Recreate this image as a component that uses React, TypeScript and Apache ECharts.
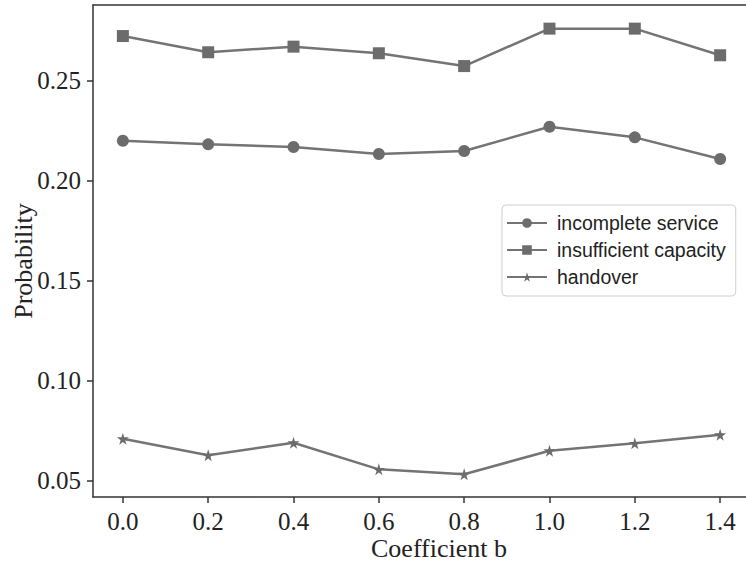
import React, { useEffect, useRef } from "react";
import * as echarts from "echarts";

const coefficients = [0.0, 0.2, 0.4, 0.6, 0.8, 1.0, 1.2, 1.4];
const incompleteService = [0.2198, 0.218, 0.2167, 0.2132, 0.2147, 0.2268, 0.2215, 0.2107];
const insufficientCapacity = [0.2721, 0.264, 0.2668, 0.2635, 0.2571, 0.2758, 0.2758, 0.2625];
const handover = [0.071, 0.0628, 0.069, 0.0557, 0.0533, 0.065, 0.0687, 0.073];
const xTicks = [0.0, 0.2, 0.4, 0.6, 0.8, 1.0, 1.2, 1.4];
const yTicks = [0.05, 0.1, 0.15, 0.2, 0.25];

const STAR = "path://M50,0 L61,35 L98,35 L68,57 L79,91 L50,70 L21,91 L32,57 L2,35 L39,35 Z";
const LINE = "#747474";
const MARK = "#6c6c6c";
const SERIF = "'Liberation Serif', 'Times New Roman', serif";
const AXIS = { color: "#333", width: 1.5 };

export default function App() {
  const ref = useRef<HTMLDivElement>(null);
  useEffect(() => {
    const chart = echarts.init(ref.current!, null, { renderer: "svg" });
    const mk = (name: string, vals: number[], symbol: string, size: number) => ({
      name,
      type: "line",
      data: coefficients.map((c, i) => [c, vals[i]]),
      symbol,
      symbolSize: size,
      showAllSymbol: true,
      lineStyle: { color: LINE, width: 2.5 },
      itemStyle: { color: MARK, borderWidth: 0 },
      emphasis: { disabled: true },
    });
    chart.setOption({
      animation: false,
      backgroundColor: "#fff",
      grid: {
        left: 93,
        top: 5,
        right: 2,
        bottom: 69,
        outerBoundsMode: "none",
        containLabel: false,
        show: false,
      },
      xAxis: [
        {
          type: "value",
          min: -0.07,
          max: 1.47,
          name: "Coefficient b",
          nameLocation: "middle",
          nameGap: 38,
          nameMoveOverlap: false,
          nameTextStyle: { fontFamily: SERIF, fontSize: 26, color: "#222", padding: [0, 0, 0, 35] },
          axisLine: { show: true, onZero: false, lineStyle: AXIS },
          axisTick: { show: true, length: 6, lineStyle: AXIS, customValues: xTicks },
          axisLabel: {
            fontFamily: SERIF,
            fontSize: 25,
            color: "#222",
            margin: 12,
            customValues: xTicks,
            formatter: (v: number) => v.toFixed(1),
          },
          splitLine: { show: false },
        },
        {
          type: "value",
          position: "top",
          min: -0.07,
          max: 1.47,
          axisLine: { show: true, onZero: false, lineStyle: AXIS },
          axisTick: { show: false },
          axisLabel: { show: false },
          splitLine: { show: false },
        },
      ],
      yAxis: {
        type: "value",
        min: 0.0419,
        max: 0.2876,
        name: "Probability",
        nameLocation: "middle",
        nameGap: 57,
        nameMoveOverlap: false,
        nameTextStyle: { fontFamily: SERIF, fontSize: 26, color: "#222", padding: [0, 20, 0, 0] },
        axisLine: { show: true, onZero: false, lineStyle: AXIS },
        axisTick: { show: true, length: 6, lineStyle: AXIS, customValues: yTicks },
        axisLabel: {
          fontFamily: SERIF,
          fontSize: 25,
          color: "#222",
          margin: 12,
          customValues: yTicks,
          formatter: (v: number) => v.toFixed(2),
        },
        splitLine: { show: false },
      },
      legend: {
        orient: "vertical",
        left: 502,
        top: 205,
        padding: [8, 10, 9, 4],
        itemWidth: 40,
        itemHeight: 12,
        itemGap: 7,
        borderColor: "#cfcfcf",
        borderWidth: 1,
        borderRadius: 4,
        backgroundColor: "#fff",
        textStyle: {
          fontFamily: "'Liberation Sans', Arial, sans-serif",
          fontSize: 19.5,
          color: "#222",
          padding: [0, 0, 0, 5],
        },
        data: ["incomplete service", "insufficient capacity", "handover"],
      },
      series: [
        mk("incomplete service", incompleteService, "circle", 12),
        mk("insufficient capacity", insufficientCapacity, "rect", 12),
        mk("handover", handover, STAR, 12),
      ],
    });
    return () => chart.dispose();
  }, []);
  return (
    <div
      style={{
        position: "fixed",
        left: 0,
        top: 0,
        width: 746,
        height: 566,
        overflow: "hidden",
        background: "#fff",
      }}
    >
      <div ref={ref} style={{ width: 752, height: 566 }} />
    </div>
  );
}
